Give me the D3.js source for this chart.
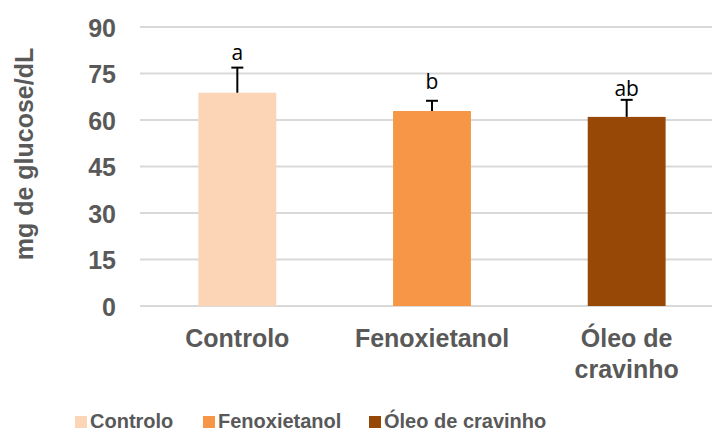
<!DOCTYPE html>
<html>
<head>
<meta charset="utf-8">
<script src="https://cdn.jsdelivr.net/npm/d3@7"></script>
<style>
  body { margin: 0; background: #fff; }
  text { font-family: "Liberation Sans", Arial, sans-serif; }
</style>
</head>
<body>
<div id="chart"></div>
<script>
const categories = ['Controlo', 'Fenoxietanol', 'Óleo de cravinho'];
const axisLabels = [['Controlo'], ['Fenoxietanol'], ['Óleo de', 'cravinho']];
const means = [68.8, 62.9, 61.0];
const errors = [8.1, 3.3, 5.5];
const letters = ['a', 'b', 'ab'];
const colors = ['#FBD5B5', '#F79646', '#974706'];
const yTicks = [0, 15, 30, 45, 60, 75, 90];

const W = 712, H = 432;
const letterGap = [8, 12, 4]; // space between error cap and letter, px

const svg = d3.select('#chart').append('svg')
    .attr('width', W)
    .attr('height', H);

const x = d3.scaleBand()
    .domain(categories)
    .range([140, 724])
    .paddingInner(0.6)
    .paddingOuter(0.3);

const y = d3.scaleLinear()
    .domain([0, 90])
    .range([306, 27]);

// gridlines
svg.append('g')
    .selectAll('line')
    .data(yTicks)
    .join('line')
    .attr('x1', 140)
    .attr('x2', W)
    .attr('y1', d => y(d))
    .attr('y2', d => y(d))
    .attr('stroke', '#d9d9d9')
    .attr('stroke-width', 2);

// y axis labels
const yAxis = svg.append('g')
    .attr('transform', 'translate(116,0)')
    .call(d3.axisLeft(y).tickValues(yTicks).tickSize(0).tickPadding(0));
yAxis.select('.domain').remove();
yAxis.selectAll('text')
    .attr('font-size', '25px')
    .attr('font-weight', 'bold')
    .attr('fill', '#595959')
    .attr('dy', '0.36em');

// axis title
svg.append('text')
    .attr('transform', 'translate(33,154) rotate(-90)')
    .attr('text-anchor', 'middle')
    .attr('font-size', '25px')
    .attr('font-weight', 'bold')
    .attr('fill', '#595959')
    .text('mg de glucose/dL');

// bars
svg.append('g')
    .selectAll('rect')
    .data(categories)
    .join('rect')
    .attr('x', d => x(d))
    .attr('y', (d, i) => y(means[i]))
    .attr('width', x.bandwidth())
    .attr('height', (d, i) => y(0) - y(means[i]))
    .attr('fill', (d, i) => colors[i]);

// error bars (upper only)
const eb = svg.append('g')
    .selectAll('g')
    .data(categories)
    .join('g');
eb.append('line')
    .attr('x1', d => x(d) + x.bandwidth() / 2)
    .attr('x2', d => x(d) + x.bandwidth() / 2)
    .attr('y1', (d, i) => y(means[i]))
    .attr('y2', (d, i) => y(means[i] + errors[i]))
    .attr('stroke', '#000')
    .attr('stroke-width', 2);
eb.append('line')
    .attr('x1', d => x(d) + x.bandwidth() / 2 - 6)
    .attr('x2', d => x(d) + x.bandwidth() / 2 + 6)
    .attr('y1', (d, i) => y(means[i] + errors[i]))
    .attr('y2', (d, i) => y(means[i] + errors[i]))
    .attr('stroke', '#000')
    .attr('stroke-width', 2);

// significance letters
svg.append('g')
    .selectAll('text')
    .data(categories)
    .join('text')
    .attr('x', d => x(d) + x.bandwidth() / 2)
    .attr('y', (d, i) => y(means[i] + errors[i]) - letterGap[i])
    .attr('text-anchor', 'middle')
    .style('font-family', '"Open Sans", sans-serif')
    .attr('font-size', '21px')
    .attr('fill', '#000')
    .text((d, i) => letters[i]);

// category labels
const xl = svg.append('g')
    .selectAll('text')
    .data(categories)
    .join('text')
    .attr('x', d => x(d) + x.bandwidth() / 2)
    .attr('y', 347)
    .attr('text-anchor', 'middle')
    .attr('font-size', '25px')
    .attr('font-weight', 'bold')
    .attr('fill', '#595959');
xl.selectAll('tspan')
    .data((d, i) => axisLabels[i])
    .join('tspan')
    .attr('x', function() { return d3.select(this.parentNode).attr('x'); })
    .attr('dy', (d, j) => j === 0 ? 0 : 31)
    .text(d => d);

// legend
const legendX = [75, 203, 369];
const lg = svg.append('g')
    .selectAll('g')
    .data(categories)
    .join('g')
    .attr('transform', (d, i) => `translate(${legendX[i]},416)`);
lg.append('rect')
    .attr('width', 12)
    .attr('height', 12)
    .attr('fill', (d, i) => colors[i]);
lg.append('text')
    .attr('x', 15)
    .attr('y', 11.5)
    .attr('font-size', '20px')
    .attr('font-weight', 'bold')
    .attr('fill', '#595959')
    .text(d => d);
</script>
</body>
</html>
